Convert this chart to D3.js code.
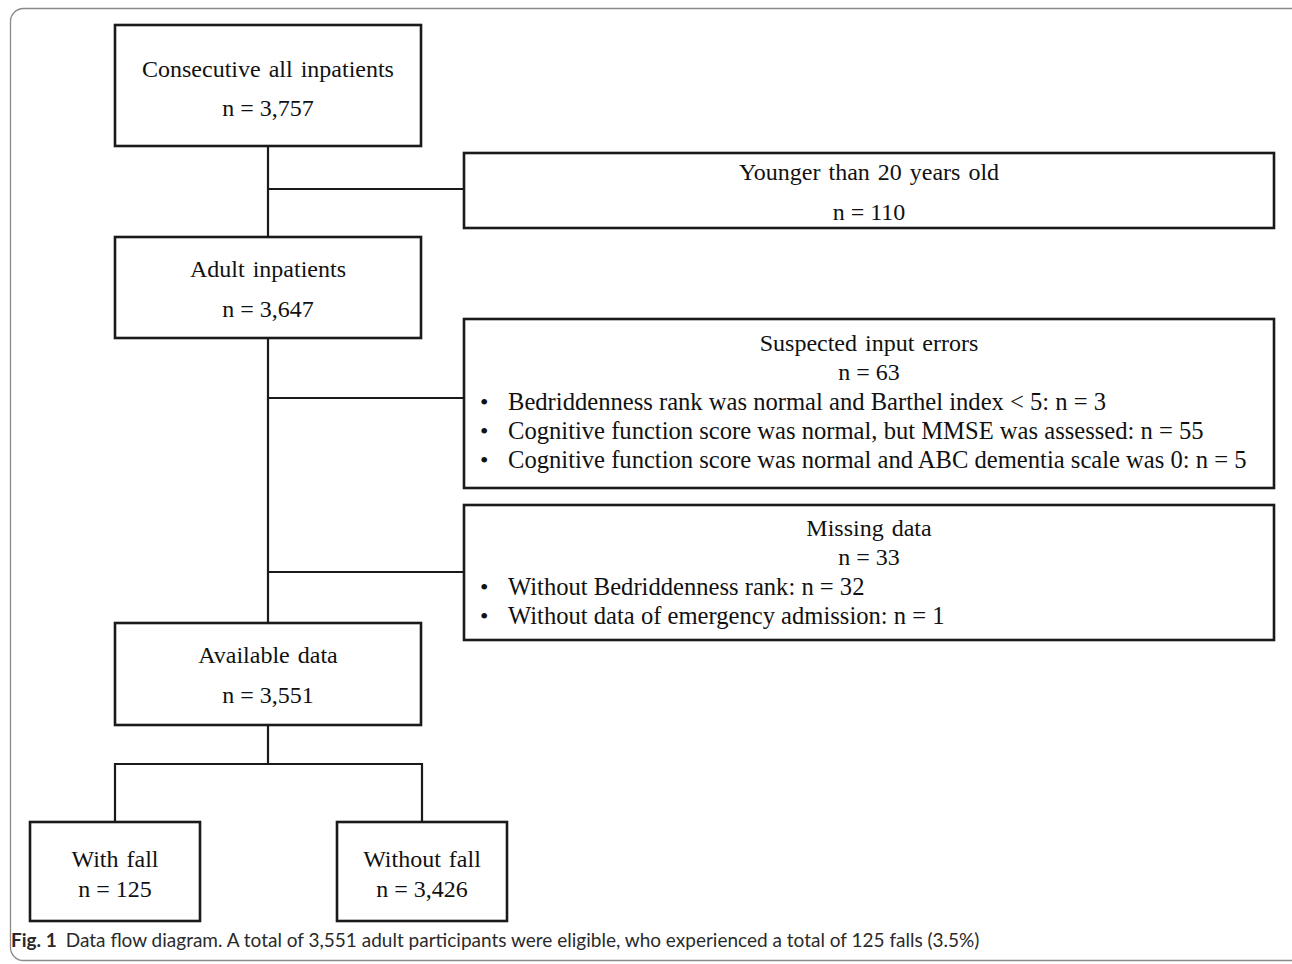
<!DOCTYPE html>
<html>
<head>
<meta charset="utf-8">
<script src="https://cdn.jsdelivr.net/npm/d3@7"></script>
<style>
  html, body { margin: 0; padding: 0; background: #fff; }
  svg { display: block; }
</style>
</head>
<body>
<svg id="chart" width="1292" height="964"></svg>
<script>
// box titles and counts (flow order)
var titles = ["Consecutive all inpatients", "Younger than 20 years old", "Adult inpatients",
  "Suspected input errors", "Missing data", "Available data", "With fall", "Without fall"];
var counts = [3757, 110, 3647, 63, 33, 3551, 125, 3426];
// bullet lines for the exclusion boxes
var bullets = [
  [],
  [],
  [],
  ["Bedriddenness rank was normal and Barthel index < 5: n = 3",
   "Cognitive function score was normal, but MMSE was assessed: n = 55",
   "Cognitive function score was normal and ABC dementia scale was 0: n = 5"],
  ["Without Bedriddenness rank: n = 32",
   "Without data of emergency admission: n = 1"],
  [], [], []
];
var captionBold = "Fig. 1";
var captionText = "Data flow diagram. A total of 3,551 adult participants were eligible, who experienced a total of 125 falls (3.5%)";

// layout: x0,x1,y0,y1, first baseline, line gap
var layout = [
  {x0: 115, x1: 421, y0: 25,  y1: 146, b: 77,  gap: 39},
  {x0: 464, x1: 1274, y0: 153, y1: 228, b: 180, gap: 40},
  {x0: 115, x1: 421, y0: 237, y1: 338, b: 277, gap: 40},
  {x0: 464, x1: 1274, y0: 319, y1: 488, b: 351, gap: 29.3},
  {x0: 464, x1: 1274, y0: 505, y1: 640, b: 536, gap: 29.3},
  {x0: 115, x1: 421, y0: 623, y1: 725, b: 663, gap: 40},
  {x0: 30,  x1: 200, y0: 822, y1: 921, b: 867, gap: 30},
  {x0: 337, x1: 507, y0: 822, y1: 921, b: 867, gap: 30}
];

var fmt = d3.format(",");
var nodes = titles.map(function(t, i) {
  return Object.assign({title: t, n: counts[i], items: bullets[i]}, layout[i]);
});

var svg = d3.select("#chart");

// outer frame
svg.append("rect")
  .attr("x", 10.5).attr("y", 8.5)
  .attr("width", 1300).attr("height", 952)
  .attr("rx", 13)
  .attr("fill", "none").attr("stroke", "#8a8a8a").attr("stroke-width", 1.3);

var lineCol = "#1a1a1a";
var cx = function(d) { return (d.x0 + d.x1) / 2; };

// connectors
var links = svg.append("g").attr("stroke", lineCol).attr("stroke-width", 2.2).attr("fill", "none");
var path = d3.path();
var mainX = cx(nodes[0]);
path.moveTo(mainX, nodes[0].y1); path.lineTo(mainX, nodes[2].y0);
path.moveTo(mainX, 189); path.lineTo(nodes[1].x0, 189);
path.moveTo(mainX, nodes[2].y1); path.lineTo(mainX, nodes[5].y0);
path.moveTo(mainX, 398); path.lineTo(nodes[3].x0, 398);
path.moveTo(mainX, 572); path.lineTo(nodes[4].x0, 572);
path.moveTo(mainX, nodes[5].y1); path.lineTo(mainX, 764);
path.moveTo(cx(nodes[6]), nodes[6].y0); path.lineTo(cx(nodes[6]), 764);
path.lineTo(cx(nodes[7]), 764); path.lineTo(cx(nodes[7]), nodes[7].y0);
links.append("path").attr("d", path.toString());

// boxes
var box = svg.selectAll("g.box").data(nodes).enter().append("g").attr("class", "box");
box.append("rect")
  .attr("x", function(d) { return d.x0; })
  .attr("y", function(d) { return d.y0; })
  .attr("width", function(d) { return d.x1 - d.x0; })
  .attr("height", function(d) { return d.y1 - d.y0; })
  .attr("fill", "#fff").attr("stroke", lineCol).attr("stroke-width", 2.6);

var serif = "'Liberation Serif', 'Times New Roman', serif";
box.append("text")
  .attr("x", cx).attr("y", function(d) { return d.b; })
  .attr("text-anchor", "middle")
  .attr("font-family", serif).attr("font-size", 24).attr("fill", "#111")
  .attr("word-spacing", 2)
  .text(function(d) { return d.title; });
box.append("text")
  .attr("x", cx).attr("y", function(d) { return d.b + d.gap; })
  .attr("text-anchor", "middle")
  .attr("font-family", serif).attr("font-size", 24).attr("fill", "#111")
  .text(function(d) { return "n = " + fmt(d.n); });

box.each(function(d) {
  var g = d3.select(this);
  d.items.forEach(function(s, j) {
    var y = d.b + d.gap * (j + 2);
    g.append("text").attr("x", d.x0 + 16).attr("y", y)
      .attr("font-family", serif).attr("font-size", 24).attr("fill", "#111")
      .text("\u2022");
    g.append("text").attr("x", d.x0 + 44).attr("y", y)
      .attr("font-family", serif).attr("font-size", 24.6).attr("fill", "#111")
      .text(s);
  });
});

// caption
var cap = svg.append("text").attr("x", 11).attr("y", 947)
  .attr("font-family", "Lato, 'Open Sans', sans-serif").attr("font-size", 19).attr("fill", "#2a2a2a");
cap.append("tspan").attr("font-weight", "bold").text(captionBold);
cap.append("tspan").attr("dx", 9).text(captionText);
</script>
</body>
</html>
